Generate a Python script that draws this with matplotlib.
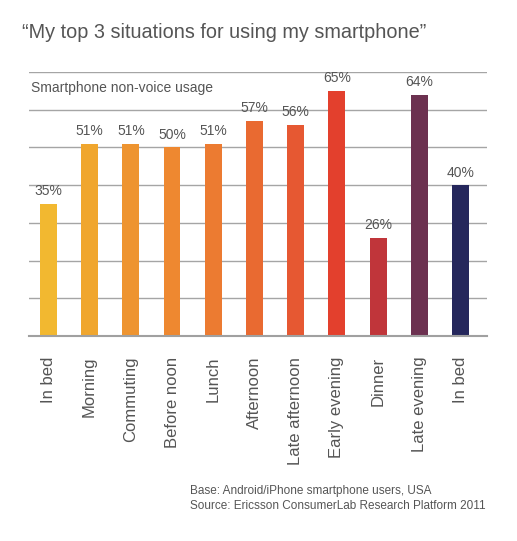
import numpy as np
import matplotlib
matplotlib.use('Agg')
import matplotlib.pyplot as plt

plt.rcParams['font.family'] = ['Liberation Sans', 'DejaVu Sans']

# data
situations = ['In bed', 'Morning', 'Commuting', 'Before noon', 'Lunch', 'Afternoon',
              'Late afternoon', 'Early evening', 'Dinner', 'Late evening', 'In bed']
usage = [35, 51, 51, 50, 51, 57, 56, 65, 26, 64, 40]
bar_colors = ['#F2B830', '#F0A62E', '#EE9430', '#EE8830', '#EC7B31', '#E96A31',
              '#E65832', '#E3402D', '#C0353A', '#6C3150', '#25275C']
grid_ticks = [10, 20, 30, 40, 50, 60, 70]

W, H = 517, 541
txt = '#555555'

fig = plt.figure(figsize=(W / 100, H / 100), dpi=100)
ax = fig.add_axes([29 / W, 1 - 336 / H, 458 / W, 264 / H])

x = np.arange(len(usage))
ax.bar(x, usage, width=0.41, color=bar_colors, zorder=3)

for xi, v in zip(x, usage):
    ax.annotate(f'{v}%', (xi, v), xytext=(0, 4), textcoords='offset points',
                ha='center', va='bottom', fontsize=10, color=txt, zorder=4)

ax.set_xlim(-0.47, 10.64)
ax.set_ylim(0, 70)
ax.set_yticks(grid_ticks)
ax.set_yticklabels([])
ax.yaxis.grid(True, color='#A5A5A5', linewidth=1.0, zorder=0)
ax.tick_params(axis='y', length=0)

ax.set_xticks(x)
ax.set_xticklabels(situations, rotation=90, fontsize=12, color=txt, va='top')
ax.tick_params(axis='x', length=0, pad=15)

for s in ['top', 'left', 'right']:
    ax.spines[s].set_visible(False)
ax.spines['bottom'].set_color('#A0A0A0')
ax.spines['bottom'].set_linewidth(1.5)
ax.spines['bottom'].set_zorder(5)

fig.text(22 / W, 1 - 33 / H, '\u201cMy top 3 situations for using my smartphone\u201d',
         fontsize=14.3, color=txt, ha='left', va='center')
fig.text(31 / W, 1 - 88 / H, 'Smartphone non-voice usage',
         fontsize=10, color=txt, ha='left', va='center')
fig.text(190 / W, 1 - 491 / H, 'Base: Android/iPhone smartphone users, USA',
         fontsize=8.5, color=txt, ha='left', va='center')
fig.text(190 / W, 1 - 506 / H, 'Source: Ericsson ConsumerLab Research Platform 2011',
         fontsize=8.5, color=txt, ha='left', va='center')

fig.savefig('out.png', dpi=100)
